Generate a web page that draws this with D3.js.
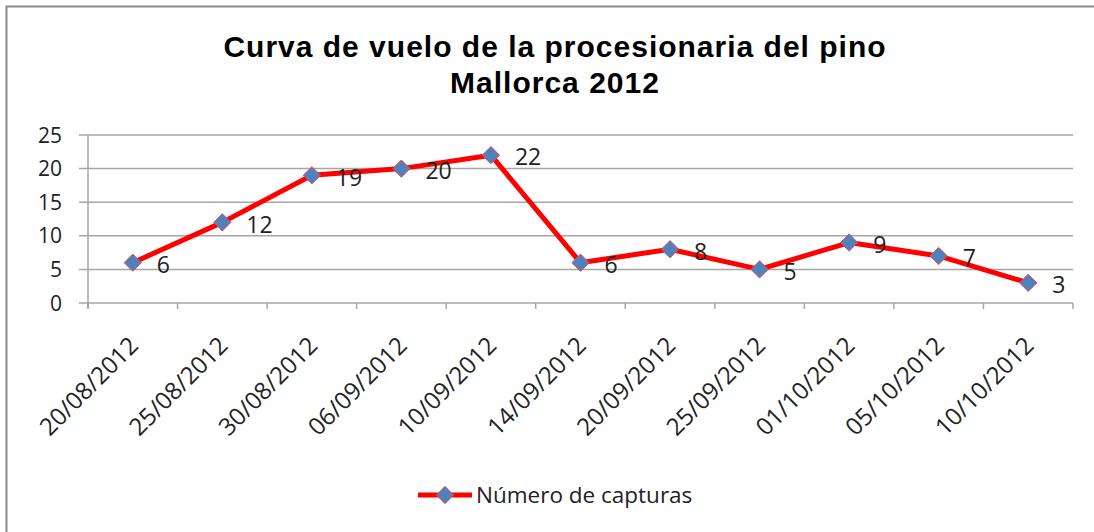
<!DOCTYPE html>
<meta charset="utf-8">
<script src="https://d3js.org/d3.v7.min.js"></script>
<style>
  body { margin: 0; background: #fff; }
  text { font-family: "Open Sans", "Noto Sans", sans-serif; }
</style>
<div id="my_dataviz"></div>
<script>
  // data
  var fechas = ["20/08/2012", "25/08/2012", "30/08/2012", "06/09/2012", "10/09/2012",
    "14/09/2012", "20/09/2012", "25/09/2012", "01/10/2012", "05/10/2012", "10/10/2012"];
  var capturas = [6, 12, 19, 20, 22, 6, 8, 5, 9, 7, 3];
  var yTicks = [0, 5, 10, 15, 20, 25];
  var serieNombre = "Número de capturas";
  var titulo = ["Curva de vuelo de la procesionaria del pino", "Mallorca 2012"];

  var W = 1094, H = 532;
  var margin = { top: 135, right: 21, bottom: 229, left: 88 },
    width = W - margin.left - margin.right,
    height = H - margin.top - margin.bottom;

  var root = d3.select("#my_dataviz").append("svg")
    .attr("width", W).attr("height", H);

  // outer frame (cut off at right and bottom)
  root.append("rect")
    .attr("x", 6.5).attr("y", 6.5)
    .attr("width", 1200).attr("height", 600)
    .attr("fill", "none").attr("stroke", "#8c8c8c").attr("stroke-width", 2);

  // title
  root.append("text")
    .attr("x", 555).attr("y", 57)
    .attr("text-anchor", "middle")
    .style("font-family", "'Liberation Sans', Arial, sans-serif")
    .style("font-weight", "bold").style("font-size", "30px")
    .style("letter-spacing", "1px")
    .selectAll("tspan").data(titulo).enter().append("tspan")
    .attr("x", 555).attr("dy", function (d, i) { return i ? 36 : 0; })
    .text(function (d) { return d; });

  var svg = root.append("g")
    .attr("transform", "translate(" + margin.left + "," + margin.top + ")");

  var x = d3.scaleBand().domain(fechas).range([0, width]);
  var y = d3.scaleLinear().domain([0, 25]).range([height, 0]);

  // gridlines
  svg.append("g").selectAll("line").data(yTicks).enter().append("line")
    .attr("x1", -9).attr("x2", width)
    .attr("y1", function (d) { return y(d); })
    .attr("y2", function (d) { return y(d); })
    .attr("stroke", "#a6a6a6").attr("stroke-width", 1.5);

  // y axis line
  svg.append("line")
    .attr("x1", 0).attr("x2", 0).attr("y1", 0).attr("y2", height + 6)
    .attr("stroke", "#a6a6a6").attr("stroke-width", 1.5);

  // y tick labels
  svg.append("g").selectAll("text").data(yTicks).enter().append("text")
    .attr("x", -26).attr("y", function (d) { return y(d); })
    .attr("dy", "0.36em").attr("text-anchor", "end")
    .style("font-size", "21px").attr("fill", "#222")
    .text(function (d) { return d; });

  // x tick marks at category boundaries
  var bounds = fechas.map(function (d) { return x(d); }).concat([width]);
  svg.append("g").selectAll("line").data(bounds).enter().append("line")
    .attr("x1", function (d) { return d; }).attr("x2", function (d) { return d; })
    .attr("y1", height).attr("y2", height + 6)
    .attr("stroke", "#a6a6a6").attr("stroke-width", 1.5);

  // x labels rotated
  svg.append("g").selectAll("text").data(fechas).enter().append("text")
    .attr("transform", function (d) {
      return "translate(" + (x(d) + x.bandwidth() / 2 + 7) + "," + (height + 44) + ") rotate(-45)";
    })
    .attr("text-anchor", "end")
    .style("font-size", "24px").attr("fill", "#222")
    .text(function (d) { return d; });

  var cx = function (d, i) { return x(fechas[i]) + x.bandwidth() / 2; };

  // line
  var valueline = d3.line()
    .x(cx)
    .y(function (d) { return y(d); });
  svg.append("path")
    .datum(capturas)
    .attr("d", valueline)
    .attr("fill", "none")
    .attr("stroke", "#ff0000")
    .attr("stroke-width", 5)
    .attr("stroke-linejoin", "round");

  // diamonds
  var diamond = d3.symbol().type(d3.symbolDiamond2).size(190);
  svg.append("g").selectAll("path").data(capturas).enter().append("path")
    .attr("d", diamond)
    .attr("transform", function (d, i) { return "translate(" + cx(d, i) + "," + y(d) + ")"; })
    .attr("fill", "#4f81bd").attr("stroke", "#e8484f").attr("stroke-width", 1);

  // data labels
  svg.append("g").selectAll("text").data(capturas).enter().append("text")
    .attr("x", function (d, i) { return cx(d, i) + 24; })
    .attr("y", function (d) { return y(d) + 2; })
    .attr("dy", "0.36em").attr("text-anchor", "start")
    .style("font-size", "23px").attr("fill", "#222")
    .text(function (d) { return d; });

  // legend
  var lg = root.append("g").attr("transform", "translate(418,495)");
  lg.append("line").attr("x1", 0).attr("x2", 54).attr("y1", 0).attr("y2", 0)
    .attr("stroke", "#ff0000").attr("stroke-width", 5);
  lg.append("path").attr("d", diamond).attr("transform", "translate(27,0)")
    .attr("fill", "#4f81bd").attr("stroke", "#e8484f").attr("stroke-width", 1);
  lg.append("text").attr("x", 58).attr("y", 0).attr("dy", "0.36em")
    .style("font-size", "22.5px").attr("fill", "#222")
    .text(serieNombre);
</script>
